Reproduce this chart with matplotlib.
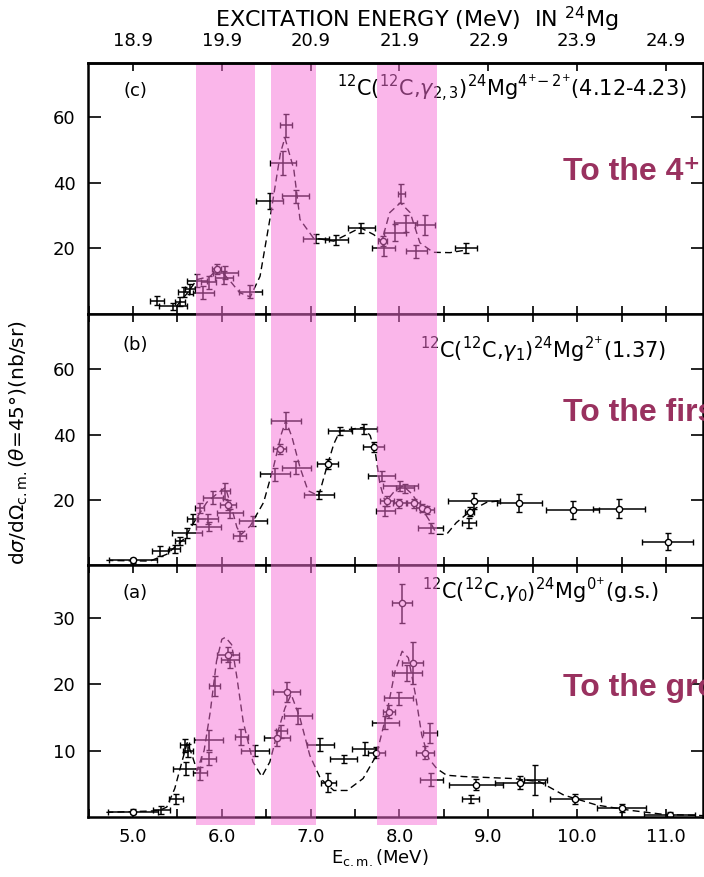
import numpy as np
import matplotlib.pyplot as plt
from matplotlib.patches import Rectangle
from matplotlib.transforms import blended_transform_factory

# 12C(12C,gamma_{2,3}) -> 4+ / 2+ states
c_x = [5.27, 5.45, 5.53, 5.57, 5.64, 5.72, 5.79, 5.85, 6.04, 6.02, 6.32, 6.54, 6.69,
       6.72, 6.83, 7.06, 7.29, 7.57, 7.82, 7.95, 8.02, 8.07, 8.29, 8.19, 8.75]
c_y = [4.1, 2.3, 3.8, 6.8, 7.6, 10.2, 6.5, 9.7, 12.6, 11.0, 6.8, 34.4, 46.1,
       57.5, 35.9, 23.0, 22.5, 26.3, 20.2, 24.8, 36.7, 27.6, 27.1, 19.1, 20.1]
c_xerr = [0.08, 0.16, 0.06, 0.06, 0.06, 0.11, 0.12, 0.08, 0.14, 0.10, 0.13, 0.15, 0.15,
          0.07, 0.15, 0.15, 0.13, 0.15, 0.13, 0.12, 0.04, 0.13, 0.11, 0.12, 0.12]
c_yerr = [1.5, 1.0, 1.5, 1.5, 1.5, 2.0, 2.0, 2.0, 2.0, 2.0, 2.0, 2.5, 3.6,
          3.5, 2.0, 1.5, 1.5, 1.5, 2.5, 2.5, 3.0, 2.5, 3.0, 2.0, 1.5]
c_ox = [5.94, 7.81]
c_oy = [13.6, 22.2]
c_oxerr = [0.05, 0.05]
c_oyerr = [1.5, 1.5]
c_fit_x = [5.49, 5.60, 5.72, 5.87, 5.96, 6.11, 6.20, 6.32, 6.43, 6.54, 6.66, 6.71, 6.81,
           6.88, 7.03, 7.26, 7.56, 7.71, 7.80, 7.89, 8.01, 8.12, 8.23, 8.38, 8.57, 8.75]
c_fit_y = [2.4, 6.0, 10.5, 11.5, 14.1, 9.5, 6.5, 5.2, 11.5, 28.8, 49.1, 53.7, 44.1,
           28.8, 23.2, 22.2, 26.3, 24.2, 22.2, 30.9, 33.9, 30.9, 21.7, 18.8, 18.7, 19.5]

# 12C(12C,gamma_1) -> 2+ (1.37)
b_x = [5.30, 5.47, 5.53, 5.61, 5.67, 5.75, 5.84, 5.85, 5.90, 6.04, 6.09, 6.20, 6.35,
       6.60, 6.72, 6.84, 7.09, 7.33, 7.60, 7.80, 7.84, 8.01, 8.06, 8.35, 8.78]
b_y = [4.3, 4.8, 7.4, 9.9, 14.1, 17.6, 14.1, 11.8, 20.7, 22.8, 15.8, 8.9, 13.5,
       27.9, 44.3, 29.9, 21.5, 41.2, 41.7, 27.2, 16.6, 24.3, 23.5, 11.3, 13.0]
b_xerr = [0.09, 0.06, 0.06, 0.17, 0.06, 0.05, 0.12, 0.14, 0.11, 0.05, 0.15, 0.07, 0.16,
          0.17, 0.17, 0.16, 0.17, 0.14, 0.15, 0.15, 0.11, 0.20, 0.10, 0.14, 0.08]
b_yerr = [1.5, 1.2, 1.2, 1.5, 1.5, 1.5, 1.5, 1.5, 2.0, 2.5, 1.5, 1.5, 1.5,
          2.0, 2.5, 2.0, 1.2, 1.2, 1.5, 1.5, 1.5, 1.5, 1.5, 1.5, 1.5]
b_ox = [5.00, 6.07, 6.65, 7.19, 7.71, 7.86, 8.00, 8.16, 8.25, 8.31, 8.79, 8.84, 9.35,
        9.95, 10.47, 11.02]
b_oy = [1.4, 18.4, 35.6, 31.0, 36.3, 19.7, 18.9, 18.9, 17.6, 16.8, 16.4, 19.7, 19.0,
        16.9, 17.3, 7.2]
b_oxerr = [0.27, 0.09, 0.07, 0.12, 0.12, 0.08, 0.07, 0.07, 0.06, 0.08, 0.05, 0.29, 0.25,
           0.30, 0.29, 0.29]
b_oyerr = [0.8, 1.5, 1.5, 1.5, 1.5, 1.5, 1.5, 1.5, 1.2, 1.2, 1.5, 2.5, 2.8,
           2.8, 2.8, 2.5]
b_fit_x = [4.70, 5.19, 5.38, 5.57, 5.72, 5.83, 5.96, 6.04, 6.11, 6.17, 6.22, 6.32, 6.47,
           6.58, 6.67, 6.72, 6.79, 6.88, 6.97, 7.09, 7.18, 7.26, 7.33, 7.59, 7.67, 7.73,
           7.78, 7.84, 7.93, 8.04, 8.14, 8.23, 8.34, 8.42, 8.53, 8.64, 8.80, 8.98, 9.13]
b_fit_y = [1.4, 1.2, 3.3, 7.9, 14.6, 19.2, 22.2, 23.8, 17.6, 11.5, 9.4, 12.0, 19.2,
           29.9, 40.2, 44.3, 39.2, 29.9, 22.8, 21.2, 29.9, 37.1, 41.2, 42.2, 39.7, 34.1,
           24.8, 19.2, 22.2, 24.3, 21.8, 18.2, 13.5, 9.4, 9.4, 13.0, 16.6, 19.2, 19.7]

# 12C(12C,gamma_0) -> 0+ (g.s.)
a_x = [5.32, 5.48, 5.60, 5.62, 5.58, 5.75, 5.85, 5.85, 5.92, 6.09, 6.22, 6.37, 6.67,
       6.86, 7.11, 7.37, 7.61, 7.84, 7.99, 8.08, 8.34, 8.36, 8.80, 9.53]
a_y = [1.0, 2.7, 7.3, 10.0, 10.8, 6.6, 8.8, 11.6, 19.7, 23.7, 12.0, 10.0, 12.9,
       15.2, 10.9, 8.8, 10.3, 14.2, 17.9, 21.7, 12.6, 5.6, 2.7, 5.6]
a_xerr = [0.10, 0.08, 0.15, 0.06, 0.05, 0.08, 0.08, 0.16, 0.06, 0.10, 0.07, 0.16, 0.06,
          0.16, 0.15, 0.15, 0.14, 0.15, 0.16, 0.17, 0.08, 0.13, 0.10, 0.13]
a_yerr = [0.6, 0.8, 1.0, 1.0, 1.0, 1.0, 1.0, 1.5, 1.5, 1.2, 1.2, 0.8, 1.0,
          1.2, 1.0, 0.6, 1.0, 1.0, 1.0, 1.2, 1.5, 1.0, 0.6, 2.3]
a_ox = [5.00, 6.07, 6.62, 6.73, 7.20, 7.74, 7.88, 8.03, 8.15, 8.29, 8.86, 9.36, 9.98,
        10.50, 11.04]
a_oy = [0.8, 24.5, 11.9, 18.8, 5.2, 9.7, 15.9, 32.2, 23.2, 9.7, 4.9, 5.2, 2.7,
        1.3, 0.3]
a_oxerr = [0.28, 0.12, 0.15, 0.15, 0.08, 0.10, 0.07, 0.11, 0.12, 0.10, 0.30, 0.28, 0.29,
           0.28, 0.29]
a_oyerr = [0.4, 1.2, 1.2, 1.5, 1.5, 0.8, 1.0, 3.0, 3.2, 1.0, 0.8, 1.0, 0.8,
           0.6, 0.4]
a_fit_x = [4.70, 5.20, 5.30, 5.38, 5.47, 5.55, 5.61, 5.66, 5.72, 5.80, 5.87, 5.94, 6.00,
           6.04, 6.11, 6.17, 6.24, 6.35, 6.45, 6.54, 6.62, 6.71, 6.78, 6.88, 6.99, 7.11,
           7.26, 7.41, 7.59, 7.74, 7.86, 7.95, 8.03, 8.10, 8.18, 8.25, 8.33, 8.42, 8.53,
           8.72, 9.28, 9.58, 9.85, 10.22, 10.60, 10.97, 11.45]
a_fit_y = [0.7, 0.9, 1.0, 1.5, 4.3, 8.3, 11.2, 9.5, 7.0, 10.0, 15.9, 23.5, 26.8,
           27.1, 26.0, 21.0, 14.4, 8.3, 6.1, 8.3, 12.4, 16.4, 18.5, 14.9, 9.3, 5.8,
           4.0, 4.0, 5.8, 9.3, 15.9, 22.0, 25.0, 24.0, 18.4, 12.4, 8.8, 7.3, 6.3,
           6.1, 5.8, 5.3, 3.3, 1.8, 1.0, 0.4, 0.2]

# resonance windows (E_cm, MeV)
bands = [(5.71, 6.37), (6.55, 7.06), (7.75, 8.42)]

W, H = 704, 877
fig = plt.figure(figsize=(W / 100, H / 100), dpi=100)


def fx(px):
    return px / W


def fy(py):
    return 1 - py / H


x0, x1 = 88, 703
edges = [63, 314, 565, 817]
panels = [
    dict(x=c_x, y=c_y, xe=c_xerr, ye=c_yerr, ox=c_ox, oy=c_oy, oxe=c_oxerr, oye=c_oyerr,
         fx=c_fit_x, fy=c_fit_y, ylim=76.5, ticks=[20, 40, 60], tag='(c)', tagy=91,
         lab=r'$^{12}$C($^{12}$C,$\gamma_{2,3}$)$^{24}$Mg$^{4^{+}\!-2^{+}}$(4.12-4.23)',
         labx=337, laby=97),
    dict(x=b_x, y=b_y, xe=b_xerr, ye=b_yerr, ox=b_ox, oy=b_oy, oxe=b_oxerr, oye=b_oyerr,
         fx=b_fit_x, fy=b_fit_y, ylim=77, ticks=[20, 40, 60], tag='(b)', tagy=345,
         lab=r'$^{12}$C($^{12}$C,$\gamma_{1}$)$^{24}$Mg$^{2^{+}}$(1.37)',
         labx=420, laby=357),
    dict(x=a_x, y=a_y, xe=a_xerr, ye=a_yerr, ox=a_ox, oy=a_oy, oxe=a_oxerr, oye=a_oyerr,
         fx=a_fit_x, fy=a_fit_y, ylim=38, ticks=[10, 20, 30], tag='(a)', tagy=593,
         lab=r'$^{12}$C($^{12}$C,$\gamma_{0}$)$^{24}$Mg$^{0^{+}}$(g.s.)',
         labx=422, laby=598),
]

axes = []
for i, p in enumerate(panels):
    ax = fig.add_axes([fx(x0), fy(edges[i + 1]), (x1 - x0) / W, (edges[i + 1] - edges[i]) / H])
    axes.append(ax)
    ax.errorbar(p['x'], p['y'], xerr=p['xe'], yerr=p['ye'], fmt='none', ecolor='black',
                elinewidth=1.1, capsize=2, capthick=1.0)
    ax.errorbar(p['ox'], p['oy'], xerr=p['oxe'], yerr=p['oye'], fmt='o', ms=4.5,
                mfc='white', mec='black', mew=1.0, ecolor='black', elinewidth=1.1,
                capsize=2, capthick=1.0)
    ax.plot(p['fx'], p['fy'], color='black', lw=1.0, ls=(0, (5, 3)))
    ax.set_xlim(4.493, 11.417)
    ax.set_ylim(0, p['ylim'])
    ax.set_yticks(p['ticks'])
    xt = np.arange(5, 11.5, 1.0)
    ax.set_xticks(xt)
    ax.set_xticklabels(['%.1f' % v for v in xt])
    ax.set_xticks(np.arange(4.5, 11.5, 0.5), minor=True)
    ax.tick_params(axis='y', which='both', direction='in', length=9, width=1.2,
                   left=True, right=True, labelsize=13, pad=9)
    ax.tick_params(axis='x', which='both', direction='in', length=6, width=1.2,
                   top=(i > 0), bottom=True, labelsize=13, pad=8)
    for s in ax.spines.values():
        s.set_linewidth(1.8)
    if i < 2:
        ax.tick_params(axis='x', labelbottom=False)
    fig.text(fx(135), fy(p['tagy']), p['tag'], fontsize=13, ha='center', va='center')
    fig.text(fx(p['labx']), fy(p['laby']), p['lab'], fontsize=15, ha='left', va='baseline')

ax_c, ax_b, ax_a = axes

# excitation energy scale in 24Mg on top
top = ax_c.secondary_xaxis('top', functions=(lambda e: e + 13.9, lambda e: e - 13.9))
et = np.arange(18.9, 25.0, 1.0)
top.set_xticks(et)
top.set_xticklabels(['%.1f' % v for v in et])
top.tick_params(direction='in', length=6, width=1.2, labelsize=13, pad=9)
top.spines['top'].set_linewidth(1.8)
fig.text(fx(417), fy(19), r'EXCITATION ENERGY (MeV)  IN $^{24}$Mg', fontsize=16,
         ha='center', va='center')

fig.text(fx(380), fy(858), r'E$_{\mathrm{c.m.}}$(MeV)', fontsize=13, ha='center', va='center')
fig.text(fx(19), fy(443), r'd$\sigma$/d$\Omega_{\mathrm{c.m.}}$($\theta$=45°)(nb/sr)',
         fontsize=14.5, rotation=90, ha='center', va='center')

# highlighted resonance windows across all three panels
tr = blended_transform_factory(ax_a.transData, fig.transFigure)
for lo, hi in bands:
    fig.add_artist(Rectangle((lo, fy(825)), hi - lo, fy(65) - fy(825), transform=tr,
                             facecolor='#F76ED7', edgecolor='none', alpha=0.5, zorder=5))

red = '#99315F'
fam = ['Liberation Sans', 'DejaVu Sans']
fig.text(fx(563), fy(172), 'To the 4\u207a', color=red, fontsize=23,
         fontweight='bold', family=fam, va='center')
fig.text(fx(563), fy(413), 'To the first 2\u207a state', color=red, fontsize=23,
         fontweight='bold', family=fam, va='center')
fig.text(fx(563), fy(688), 'To the ground state', color=red, fontsize=23,
         fontweight='bold', family=fam, va='center')

fig.savefig('out.png', dpi=100)
